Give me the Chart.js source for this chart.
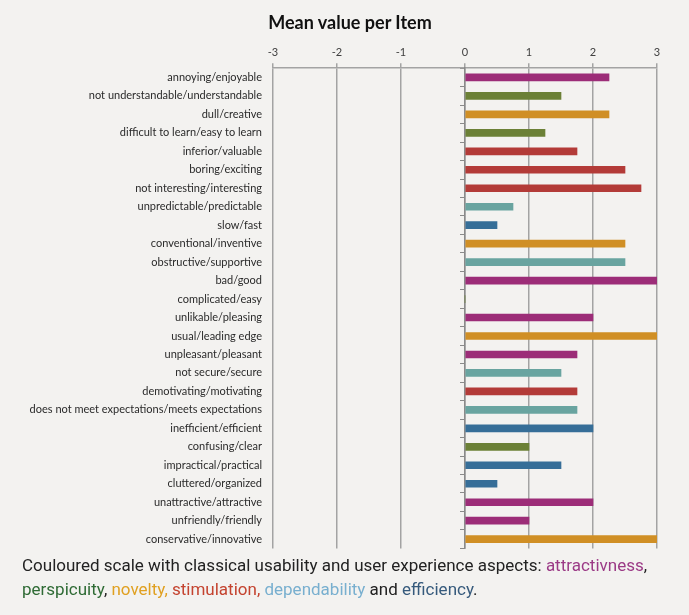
<!DOCTYPE html>
<html>
<head>
<meta charset="utf-8">
<script src="https://cdn.jsdelivr.net/npm/chart.js@4/dist/chart.umd.min.js"></script>
<style>
  body { margin: 0; background: #f3f2f0; }
  #wrap { position: absolute; left: 0; top: 0; width: 689px; height: 558px; }
  #title {
    position: absolute; left: 250px; width: 200px; top: 10px; text-align: center;
    font-family: Lato, sans-serif; font-weight: bold; font-size: 18px; line-height: 24px; color: #111;
  }
  #caption {
    position: absolute; left: 22px; top: 553px; width: 667px;
    font-family: Roboto, "Noto Sans", sans-serif; font-size: 17px; line-height: 24px; color: #222;
  }
  .att { color: #9b3a86; }
  .per { color: #2f6b35; }
  .nov { color: #e0a020; }
  .sti { color: #c4432f; }
  .dep { color: #78afcf; }
  .eff { color: #365a7c; }
</style>
</head>
<body>
<div id="wrap"><canvas id="chartCanvas"></canvas></div>
<div id="title">Mean value per Item</div>
<div id="caption">Couloured scale with classical usability and user experience aspects: <span class="att">attractivness</span>,<br><span class="per">perspicuity</span>, <span class="nov">novelty, </span><span class="sti">stimulation, </span><span class="dep">dependability</span> and <span class="eff">efficiency</span>.</div>
<script>
// Items of the questionnaire, top to bottom
const items = [
    "annoying/enjoyable",
    "not understandable/understandable",
    "dull/creative",
    "difficult to learn/easy to learn",
    "inferior/valuable",
    "boring/exciting",
    "not interesting/interesting",
    "unpredictable/predictable",
    "slow/fast",
    "conventional/inventive",
    "obstructive/supportive",
    "bad/good",
    "complicated/easy",
    "unlikable/pleasing",
    "usual/leading edge",
    "unpleasant/pleasant",
    "not secure/secure",
    "demotivating/motivating",
    "does not meet expectations/meets expectations",
    "inefficient/efficient",
    "confusing/clear",
    "impractical/practical",
    "cluttered/organized",
    "unattractive/attractive",
    "unfriendly/friendly",
    "conservative/innovative"
];

// Mean value per item
const meanValues = [2.25, 1.5, 2.25, 1.25, 1.75, 2.5, 2.75, 0.75, 0.5, 2.5, 2.5, 3, 0,
    2, 3, 1.75, 1.5, 1.75, 1.75, 2, 1, 1.5, 0.5, 2, 1, 3];

// UX aspect of each item
const aspects = ["att", "per", "nov", "per", "sti", "sti", "sti", "dep", "eff", "nov", "dep", "att", "per",
    "att", "nov", "att", "dep", "sti", "dep", "eff", "per", "eff", "eff", "att", "att", "nov"];

const xTicks = [-3, -2, -1, 0, 1, 2, 3];

// Colours for the aspects
const aspectColors = {
    att: "#9c2d78",
    per: "#6b8036",
    nov: "#d08f25",
    sti: "#b33b38",
    dep: "#69a4a0",
    eff: "#366e98"
};

const ctx = document.getElementById("chartCanvas").getContext("2d");

new Chart(ctx, {
    type: "bar",
    data: {
        labels: items,
        datasets: [{
            data: meanValues,
            backgroundColor: aspects.map(a => aspectColors[a]),
            barThickness: 7,
            borderWidth: 0
        }]
    },
    options: {
        indexAxis: "y",
        responsive: true,
        maintainAspectRatio: false,
        animation: false,
        layout: { padding: { left: 0, right: 32, top: 42, bottom: 3 } },
        plugins: {
            legend: { display: false },
            tooltip: { enabled: false },
            title: { display: false }
        },
        scales: {
            x: {
                position: "top",
                min: -3,
                max: 3,
                afterBuildTicks: scale => { scale.ticks = xTicks.map(v => ({ value: v })); },
                ticks: { color: "#404040", font: { family: "Lato", size: 11 }, padding: 4 },
                grid: { color: "#a3a3a3", lineWidth: 1.5, tickLength: 5 },
                border: { color: "#a3a3a3", width: 1.5 }
            },
            y: {
                afterFit: scale => { scale.width = 273; },
                ticks: { color: "#2a2a2a", font: { family: "Lato", size: 11 }, padding: 3, autoSkip: false },
                grid: { display: false },
                border: { display: false }
            },
            y0: {
                type: "category",
                axis: "y",
                position: { x: 0 },
                offset: true,
                ticks: { display: false },
                grid: { offset: true, drawOnChartArea: false, tickLength: 4, color: "#8a8a8a" },
                border: { color: "#8a8a8a", width: 1.5 }
            }
        }
    }
});
</script>
</body>
</html>
